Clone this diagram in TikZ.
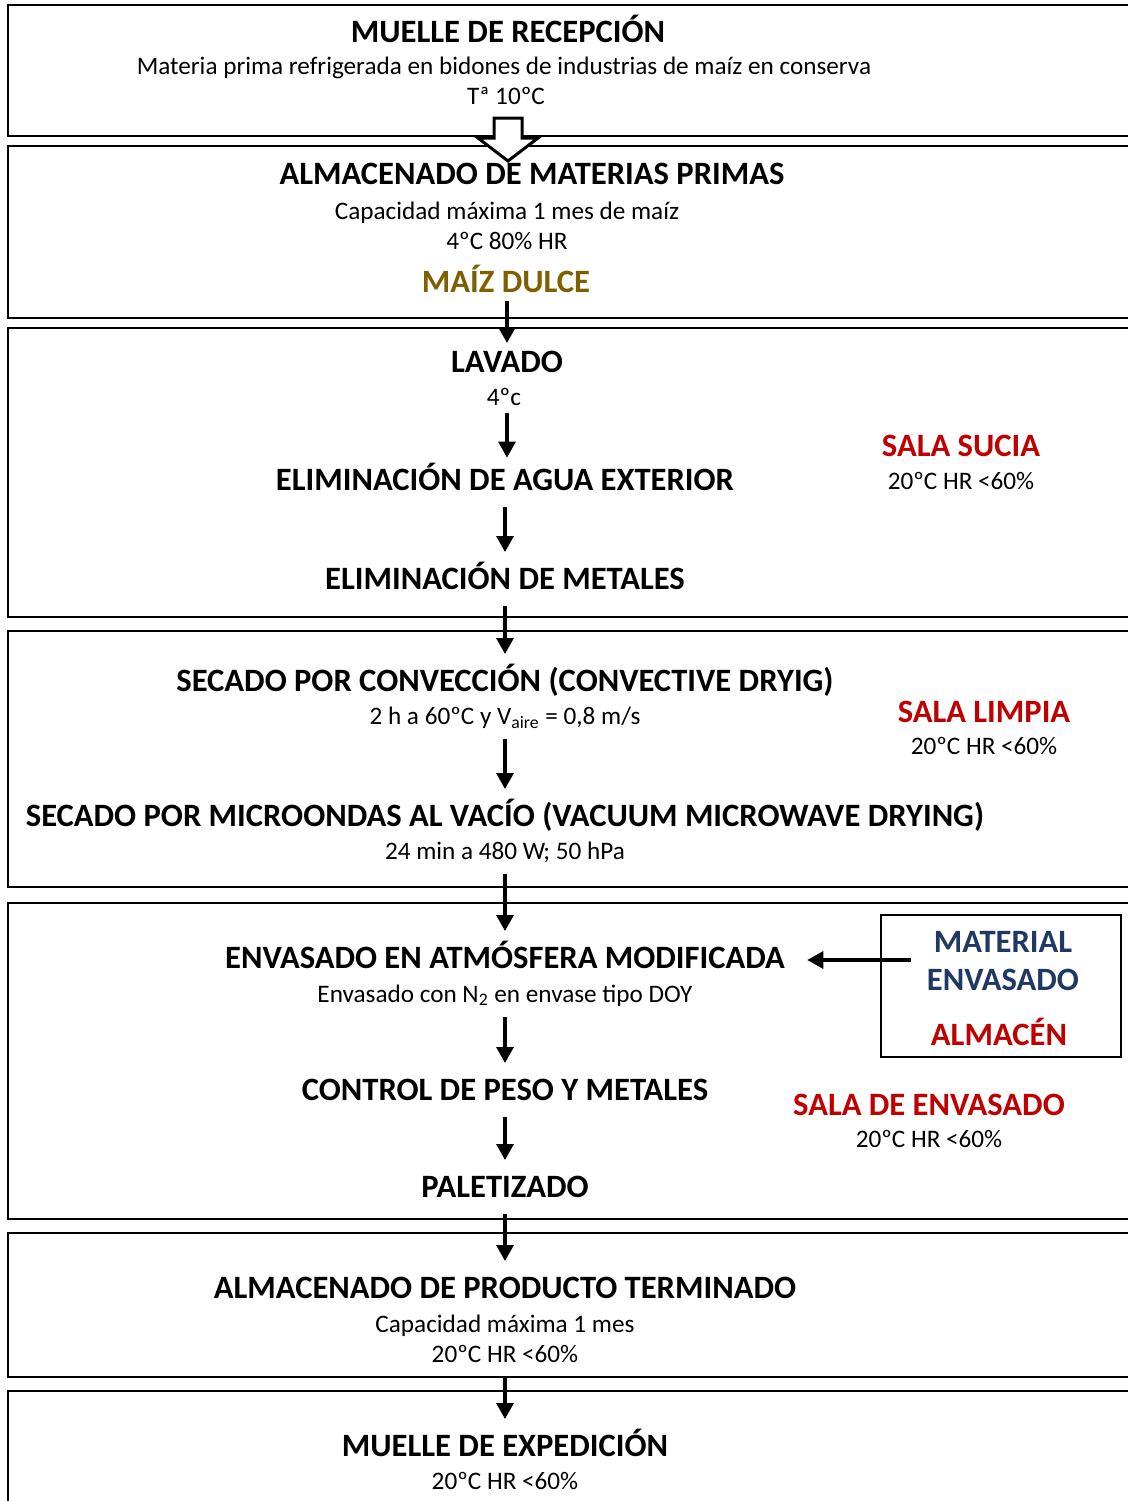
\documentclass[tikz,border=0pt]{standalone}
\usepackage{fontspec}
\setmainfont{Carlito}
\usetikzlibrary{arrows.meta, positioning, calc}
\definecolor{maizgold}{RGB}{127, 96, 0}
\definecolor{salared}{RGB}{192, 0, 0}
\definecolor{matblue}{RGB}{31, 56, 100}

\tikzset{
  zona/.style={draw=black, line width=1pt},
  paso/.style={font=\fontsize{16.3}{19.5}\selectfont\bfseries, text height=10.6pt, text depth=0pt, inner xsep=4pt, inner ysep=8pt},
  dato/.style={font=\fontsize{12.6}{15}\selectfont, text height=8.8pt, text depth=0.5pt, inner xsep=3pt, inner ysep=6.5pt},
  sala/.style={font=\fontsize{16.3}{19.5}\selectfont\bfseries, text=salared, inner sep=2pt},
  flecha/.style={line width=1.6pt, -{Triangle[length=8pt, width=8.5pt]}}
}

\begin{document}
\begin{tikzpicture}[x=0.5pt, y=-0.5pt]
  \useasboundingbox (0,0) rectangle (1128,1501);
  \clip (0,0) rectangle (1128,1501);

  % Zonas
  \draw[zona] (8,5) rectangle (1140,136);
  \draw[zona] (8,146) rectangle (1140,318);
  \draw[zona] (8,328) rectangle (1140,617);
  \draw[zona] (8,631) rectangle (1140,887);
  \draw[zona] (8,903) rectangle (1140,1219);
  \draw[zona] (8,1233) rectangle (1140,1377);
  \draw[zona] (8,1391) rectangle (1140,1520);

  % Muelle de recepcion
  \node[paso] (recep) at (508, 32) {MUELLE DE RECEPCIÓN};
  \node[dato] (recepA) at (504, 66) {Materia prima refrigerada en bidones de industrias de maíz en conserva};
  \node[dato] (recepB) at (506, 96) {Tª 10ºC};

  % Almacenado de materias primas
  \node[paso] (almmp) at (532, 174) {ALMACENADO DE MATERIAS PRIMAS};
  \node[dato] (almmpA) at (507, 211) {Capacidad máxima 1 mes de maíz};
  \node[dato] (almmpB) at (507, 241) {4ºC 80\% HR};
  \node[paso, text=maizgold, inner ysep=4pt] (maiz) at (506, 282) {MAÍZ DULCE};

  % Flecha hueca
  \coordinate (hueca) at (508, 118);
  \draw[line width=1.5pt, fill=white] (hueca) ++(-14,0) -- ++(0,20) -- ++(-16,0) -- (508,161) -- (538,138) -- ++(-16,0) -- ++(0,-20) -- cycle;

  % Sala sucia
  \node[paso, inner ysep=4pt] (lavado) at (507, 362) {LAVADO};
  \node[dato] (lavadoA) at (504, 397) {4ºc};
  \node[paso] (agua) at (505, 480) {ELIMINACIÓN DE AGUA EXTERIOR};
  \node[paso] (metal) at (505, 579) {ELIMINACIÓN DE METALES};
  \node[sala] (sucia) at (961, 446) {SALA SUCIA};
  \node[dato] (suciaA) at (961, 481) {20ºC HR <60\%};

  % Sala limpia
  \node[paso] (conv) at (505, 681) {SECADO POR CONVECCIÓN (CONVECTIVE DRYIG)};
  \node[dato] (convA) at (505, 716) {2 h a 60ºC y V\textsubscript{aire} = 0,8 m/s};
  \node[paso] (micro) at (505, 816) {SECADO POR MICROONDAS AL VACÍO (VACUUM MICROWAVE DRYING)};
  \node[dato] (microA) at (505, 851) {24 min a 480 W; 50 hPa};
  \node[sala] (limpia) at (984, 712) {SALA LIMPIA};
  \node[dato] (limpiaA) at (984, 746) {20ºC HR <60\%};

  % Sala de envasado
  \node[paso] (atm) at (505, 958) {ENVASADO EN ATMÓSFERA MODIFICADA};
  \node[dato] (atmA) at (505, 994) {Envasado con N\textsubscript{2} en envase tipo DOY};
  \node[paso] (peso) at (505, 1090) {CONTROL DE PESO Y METALES};
  \node[paso] (palet) at (505, 1187) {PALETIZADO};
  \node[sala] (envas) at (929, 1105) {SALA DE ENVASADO};
  \node[dato] (envasA) at (929, 1139) {20ºC HR <60\%};

  % Material de envasado
  \node[draw, line width=0.8pt, minimum width=120pt, minimum height=71pt, inner sep=0pt] (mat) at (1001, 986) {};
  \node[text=matblue, font=\fontsize{16.3}{19.5}\selectfont\bfseries] (matA) at (1003, 942) {MATERIAL};
  \node[text=matblue, font=\fontsize{16.3}{19.5}\selectfont\bfseries] (matB) at (1003, 980) {ENVASADO};
  \node[sala] (almacen) at (999, 1032) {ALMACÉN};
  \coordinate (matsal) at ($(mat.west)+(31,-26)$);
  \draw[flecha, shorten >=7pt] (matsal) -- (matsal -| atm.east);

  % Producto terminado y expedicion
  \node[paso] (almpt) at (505, 1288) {ALMACENADO DE PRODUCTO TERMINADO};
  \node[dato] (almptA) at (505, 1324) {Capacidad máxima 1 mes};
  \node[dato] (almptB) at (505, 1354) {20ºC HR <60\%};
  \node[paso] (exped) at (505, 1446) {MUELLE DE EXPEDICIÓN};
  \node[dato] (expedA) at (505, 1481) {20ºC HR <60\%};

  % Flechas
  \draw[flecha] (maiz.south -| lavado) -- (lavado.north);
  \draw[flecha, shorten <=-3.6pt, shorten >=-2.3pt] (lavadoA.south -| lavado) -- (agua.north -| lavado);
  \draw[flecha] (agua.south) -- (metal.north);
  \draw[flecha] (metal.south) -- (conv.north);
  \draw[flecha] (convA.south) -- (micro.north);
  \draw[flecha] (microA.south) -- (atm.north);
  \draw[flecha] (atmA.south) -- (peso.north);
  \draw[flecha] (peso.south) -- (palet.north);
  \draw[flecha] (palet.south) -- (almpt.north);
  \draw[flecha] (almptB.south) -- (exped.north);
\end{tikzpicture}
\end{document}
